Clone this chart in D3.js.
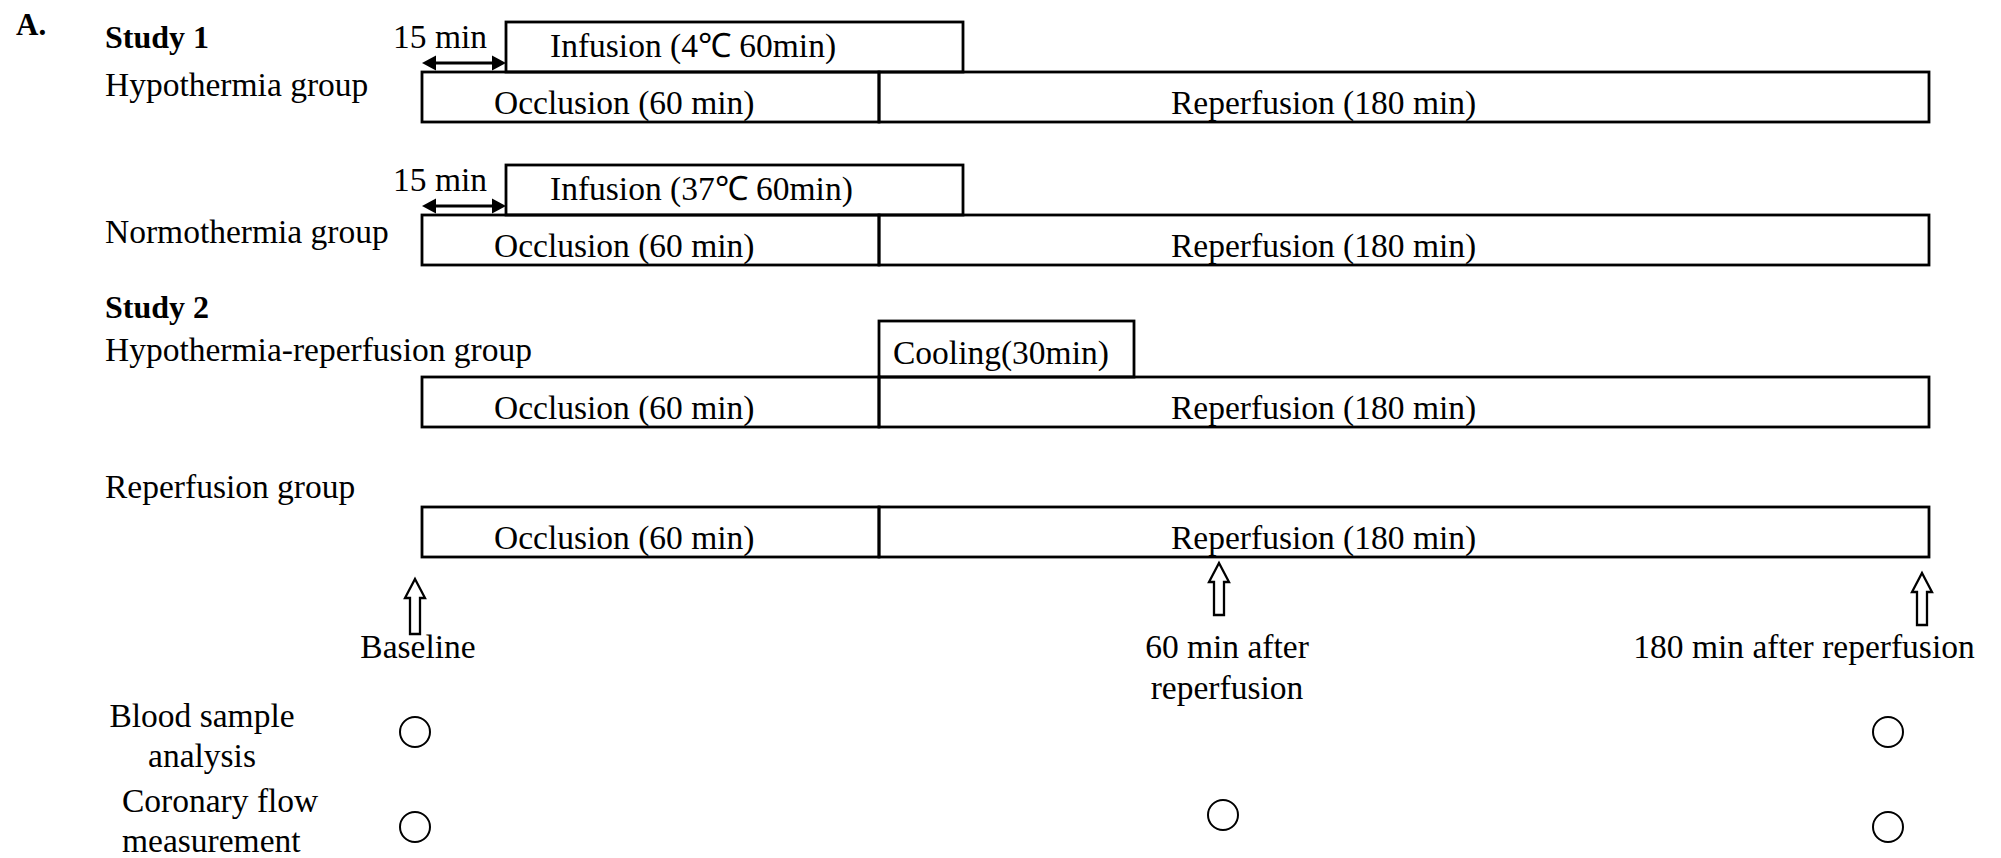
<!DOCTYPE html>
<html><head><meta charset="utf-8">
<script src="https://cdn.jsdelivr.net/npm/d3@7"></script>
<style>
html,body{margin:0;padding:0;background:#fff;}
svg{display:block;}
text{font-family:"Liberation Serif","Times New Roman",serif;fill:#000;}
</style>
</head><body>
<svg id="chart" width="2001" height="858"></svg>
<script>
// ---------------- data ----------------
const panelLabel = "A.";
const studies = ["Study 1", "Study 2"];
const groups = ["Hypothermia group", "Normothermia group", "Hypothermia-reperfusion group", "Reperfusion group"];
const phaseLabels = ["Occlusion (60 min)", "Reperfusion (180 min)"];
const phaseStart = [0, 60];
const phaseEnd = [60, 240];
const treatLabels = ["Infusion (4\u2103 60min)", "Infusion (37\u2103 60min)", "Cooling(30min)"];
const treatGroup = [0, 1, 2];
const treatStart = [15, 15, 60];
const treatEnd = [75, 75, 90];
const delayLabel = "15 min";
const delayGroups = [0, 1];
const delayStart = 0;
const delayEnd = 15;
const timepoints = [0, 120, 240];
const timepointLabels = [["Baseline"], ["60 min after", "reperfusion"], ["180 min after reperfusion"]];
const measureLabels = [["Blood sample", "analysis"], ["Coronary flow", "measurement"]];
const bloodSample = [1, 0, 1];
const coronaryFlow = [1, 1, 1];

// ---------------- layout ----------------
const W = 2001, H = 858;
const FS = 33.5;
const rowTop = [72, 215, 377, 507];
const boxH = 50;
const treatH = [50, 50, 56];
const treatTextDx = [44, 44, 14];
const treatTextDy = [35, 35, 43];
const phaseTextDx = [72, 292];
const groupLabelY = [96, 243, 361, 498];
const studyY = [48, 318];
const leftX = 105;
const stroke = 2.8;

const svg = d3.select("#chart");
svg.append("rect").attr("width", W).attr("height", H).attr("fill", "#fff");

// timeline scale (diagram is not drawn to scale, so piecewise)
const x = d3.scaleLinear()
  .domain([0, 15, 60, 75, 90, 240])
  .range([422, 506, 879, 963, 1134, 1929]);

// sampling time-point positions
const arrowX = d3.scaleOrdinal().domain(timepoints).range([415, 1219, 1922]);
const arrowTop = d3.scaleOrdinal().domain(timepoints).range([579, 563, 573]);
const arrowLen = d3.scaleOrdinal().domain(timepoints).range([55, 52, 52]);
const circX = d3.scaleOrdinal().domain(timepoints).range([415, 1223, 1888]);
const tpTextX = d3.scaleOrdinal().domain(timepoints).range([418, 1227, 1804]);

// panel label
svg.append("text").attr("x", 16).attr("y", 35)
  .style("font-size", "31px").style("font-weight", "bold").text(panelLabel);

// study labels
studies.forEach((s, i) => {
  svg.append("text").attr("x", leftX).attr("y", studyY[i])
    .style("font-size", "32px").style("font-weight", "bold").text(s);
});

// group labels
svg.selectAll("text.group").data(groups).join("text")
  .attr("class", "group")
  .attr("x", leftX).attr("y", (d, i) => groupLabelY[i])
  .style("font-size", FS + "px").text(d => d);

// phase boxes
groups.forEach((g, gi) => {
  const top = rowTop[gi];
  phaseLabels.forEach((p, pi) => {
    svg.append("rect")
      .attr("x", x(phaseStart[pi])).attr("y", top)
      .attr("width", x(phaseEnd[pi]) - x(phaseStart[pi])).attr("height", boxH)
      .attr("fill", "none").attr("stroke", "#000").attr("stroke-width", stroke);
    svg.append("text")
      .attr("x", x(phaseStart[pi]) + phaseTextDx[pi]).attr("y", top + 42)
      .style("font-size", FS + "px").text(p);
  });
});

// treatment boxes
treatLabels.forEach((t, i) => {
  const top = rowTop[treatGroup[i]] - treatH[i];
  svg.append("rect")
    .attr("x", x(treatStart[i])).attr("y", top)
    .attr("width", x(treatEnd[i]) - x(treatStart[i])).attr("height", treatH[i])
    .attr("fill", "none").attr("stroke", "#000").attr("stroke-width", stroke);
  svg.append("text")
    .attr("x", x(treatStart[i]) + treatTextDx[i]).attr("y", top + treatTextDy[i])
    .style("font-size", FS + "px").text(t);
});

// delay double arrows
delayGroups.forEach(gi => {
  const y = rowTop[gi] - 9;
  const x0 = x(delayStart), x1 = x(delayEnd);
  const hl = 14, hw = 7.5;
  svg.append("line").attr("x1", x0 + hl - 2).attr("x2", x1 - hl + 2)
    .attr("y1", y).attr("y2", y).attr("stroke", "#000").attr("stroke-width", 2.8);
  svg.append("path").attr("d", `M${x0},${y}L${x0 + hl},${y - hw}L${x0 + hl},${y + hw}Z`).attr("fill", "#000");
  svg.append("path").attr("d", `M${x1},${y}L${x1 - hl},${y - hw}L${x1 - hl},${y + hw}Z`).attr("fill", "#000");
  svg.append("text").attr("x", x0 - 29).attr("y", rowTop[gi] - 24)
    .style("font-size", FS + "px").text(delayLabel);
});

// hollow up arrows at sampling points
timepoints.forEach((t, i) => {
  const cx = arrowX(t), ty = arrowTop(t), b = ty + arrowLen(t);
  const h = ty + 19, hh = 10, sh = 5;
  svg.append("path")
    .attr("d", `M${cx},${ty}L${cx + hh},${h}L${cx + sh},${h}L${cx + sh},${b}L${cx - sh},${b}L${cx - sh},${h}L${cx - hh},${h}Z`)
    .attr("fill", "#fff").attr("stroke", "#000").attr("stroke-width", 2.3).attr("stroke-linejoin", "miter");
  const tx = svg.append("text").attr("x", tpTextX(t)).attr("y", 658)
    .attr("text-anchor", "middle").style("font-size", FS + "px");
  timepointLabels[i].forEach((line, li) => {
    tx.append("tspan").attr("x", tpTextX(t)).attr("dy", li === 0 ? 0 : 41).text(line);
  });
});

// measurement rows
const measureY = [732, 827];
const measureDy = [[0, 0, 0], [0, -12, 0]];
const measureTextY = [727, 812];
const measureAnchor = ["middle", "start"];
const measureTextX = [202, 122];
const measureFlags = [bloodSample, coronaryFlow];
measureLabels.forEach((lines, mi) => {
  const tx = svg.append("text").attr("x", measureTextX[mi]).attr("y", measureTextY[mi])
    .attr("text-anchor", measureAnchor[mi]).style("font-size", FS + "px");
  lines.forEach((line, li) => {
    tx.append("tspan").attr("x", measureTextX[mi]).attr("dy", li === 0 ? 0 : 40).text(line);
  });
  svg.selectAll(null).data(timepoints.filter((t, i) => measureFlags[mi][i])).join("circle")
    .attr("cx", d => circX(d))
    .attr("cy", d => measureY[mi] + measureDy[mi][timepoints.indexOf(d)])
    .attr("r", 15)
    .attr("fill", "none").attr("stroke", "#000").attr("stroke-width", 2);
});
</script>
</body></html>
